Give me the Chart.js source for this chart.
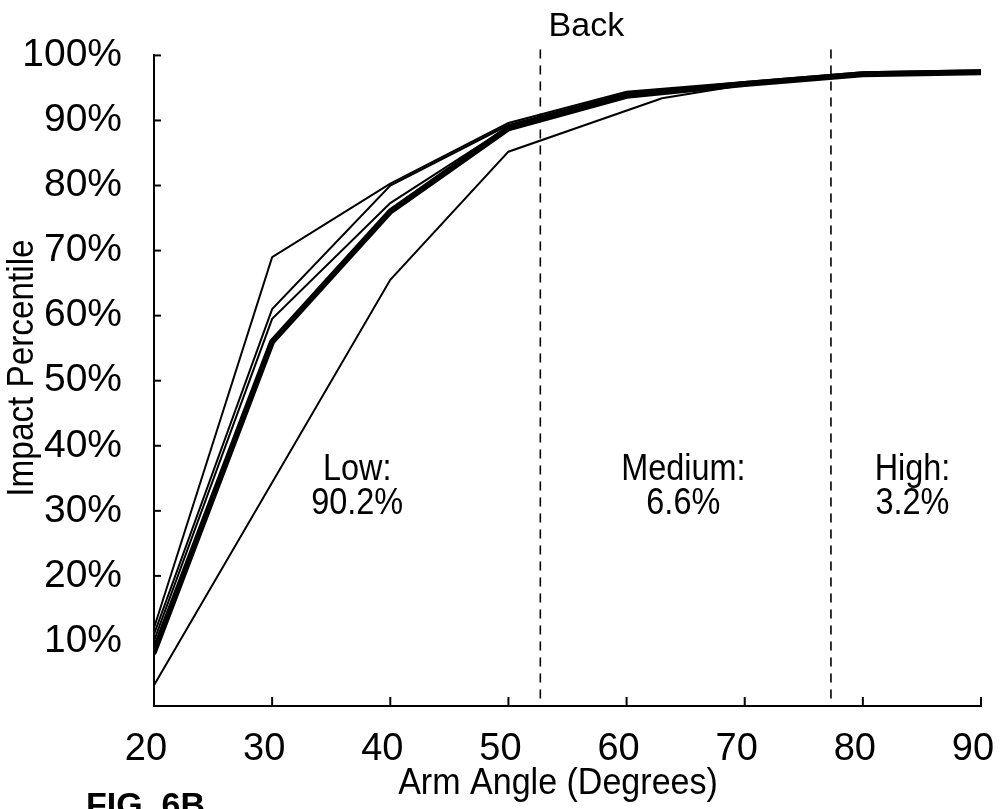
<!DOCTYPE html>
<html>
<head>
<meta charset="utf-8">
<script src="https://cdn.jsdelivr.net/npm/chart.js@4/dist/chart.umd.min.js"></script>
<style>
    body { margin: 0; background: #fff; }
    canvas { display: block; }
</style>
</head>
<body>
<canvas id="impactChart" width="1000" height="809"></canvas>
<script>
// 手臂角度（X軸）
const angles = [20, 30, 40, 50, 60, 70, 80, 90];
// 各條細線的撞擊百分位
const lineA = [12.0, 69.0, 80.3, 89.6, 94.4, 95.9, 97.4, 97.7];
const lineB = [11.0, 61.0, 80.0, 89.3, 94.2, 95.8, 97.3, 97.6];
const lineC = [10.0, 59.5, 77.3, 89.0, 94.0, 95.7, 97.2, 97.5];
// 粗線（平均）
const lineMean = [8.3, 56.0, 76.0, 88.8, 93.8, 95.6, 97.1, 97.4];
// 最低的那條線，沒有30度的點，轉折在約63度
const lowAngles = [20, 40, 50, 63, 70, 80, 90];
const lineLow = [3.2, 65.5, 85.2, 93.4, 95.5, 97.1, 97.4];

// 分區界線（虛線）
const boundaries = [52.7, 77.3];
// 分區文字
const zoneLabels = [
    { lines: ['Low:', '90.2%'], x: 37.2 },
    { lines: ['Medium:', '6.6%'], x: 64.8 },
    { lines: ['High:', '3.2%'], x: 84.2 }
];
const yTicks = [10, 20, 30, 40, 50, 60, 70, 80, 90, 100];
const xTicks = [30, 40, 50, 60, 70, 80, 90];

const FONT = "'Liberation Sans', Arial, sans-serif";

function toPoints(xs, ys) {
    return xs.map((x, i) => ({ x: x, y: ys[i] }));
}

function thinLine(data) {
    return {
        data: data,
        borderColor: '#000',
        borderWidth: 2,
        pointRadius: 0,
        tension: 0,
        fill: false
    };
}

// 稍微壓窄的文字（原圖字型偏窄）
function narrowText(ctx, text, x, y, sx) {
    ctx.save();
    ctx.translate(x, y);
    ctx.scale(sx, 1);
    ctx.fillText(text, 0, 0);
    ctx.restore();
}

// 自訂繪圖：內向刻度、虛線、文字
const decorPlugin = {
    id: 'decor',
    beforeDatasetsDraw(chart) {
        const ctx = chart.ctx;
        const xs = chart.scales.x;
        const area = chart.chartArea;
        ctx.save();
        ctx.strokeStyle = '#000';
        ctx.lineWidth = 1.6;
        ctx.setLineDash([9, 7]);
        boundaries.forEach(b => {
            const px = xs.getPixelForValue(b);
            ctx.beginPath();
            ctx.moveTo(px, area.top - 6);
            ctx.lineTo(px, area.bottom);
            ctx.stroke();
        });
        ctx.restore();
    },
    afterDraw(chart) {
        const ctx = chart.ctx;
        const xs = chart.scales.x;
        const ys = chart.scales.y;
        const area = chart.chartArea;
        ctx.save();
        ctx.strokeStyle = '#000';
        ctx.lineWidth = 2;
        // Y軸刻度（向內）
        yTicks.forEach(v => {
            const py = ys.getPixelForValue(v);
            ctx.beginPath();
            ctx.moveTo(area.left, py);
            ctx.lineTo(area.left + 7, py);
            ctx.stroke();
        });
        // X軸刻度（向上）
        xTicks.forEach(v => {
            const px = xs.getPixelForValue(v);
            ctx.beginPath();
            ctx.moveTo(px, area.bottom);
            ctx.lineTo(px, area.bottom - 9);
            ctx.stroke();
        });

        ctx.fillStyle = '#000';
        ctx.textAlign = 'center';
        ctx.textBaseline = 'middle';

        // 分區文字
        ctx.font = '36px ' + FONT;
        zoneLabels.forEach(z => {
            const px = xs.getPixelForValue(z.x);
            narrowText(ctx, z.lines[0], px, 470, 0.9);
            narrowText(ctx, z.lines[1], px, 504, 0.9);
        });

        // Back
        ctx.font = '34px ' + FONT;
        ctx.fillText('Back', xs.getPixelForValue(56.6), 27);

        // X軸標題
        ctx.font = '37px ' + FONT;
        narrowText(ctx, 'Arm Angle (Degrees)', 558, 784, 0.92);

        // Y軸標題
        ctx.save();
        ctx.translate(23, 368);
        ctx.rotate(-Math.PI / 2);
        narrowText(ctx, 'Impact Percentile', 0, 0, 0.9);
        ctx.restore();

        // 圖號
        ctx.font = 'bold 34px ' + FONT;
        ctx.textAlign = 'left';
        ctx.textBaseline = 'top';
        ctx.fillText('FIG. 6B', 86, 790);
        ctx.restore();
    }
};

const ctx = document.getElementById('impactChart').getContext('2d');
new Chart(ctx, {
    type: 'line',
    data: {
        datasets: [
            thinLine(toPoints(lowAngles, lineLow)),
            thinLine(toPoints(angles, lineA)),
            thinLine(toPoints(angles, lineB)),
            thinLine(toPoints(angles, lineC)),
            {
                data: toPoints(angles, lineMean),
                borderColor: '#000',
                borderWidth: 6,
                borderCapStyle: 'round',
                borderJoinStyle: 'round',
                pointRadius: 0,
                tension: 0,
                fill: false
            }
        ]
    },
    options: {
        responsive: false,
        animation: false,
        layout: { padding: { top: 53, right: 19, left: 0, bottom: 0 } },
        plugins: {
            legend: { display: false },
            tooltip: { enabled: false }
        },
        scales: {
            x: {
                type: 'linear',
                min: 20,
                max: 90,
                afterFit: s => {
                    s.height = 103;
                    s.paddingLeft = 0;
                    s.paddingRight = 0;
                },
                grid: { drawOnChartArea: false, drawTicks: false },
                border: { color: '#000', width: 2 },
                ticks: {
                    stepSize: 10,
                    padding: 21,
                    labelOffset: -8,
                    color: '#000',
                    font: { family: FONT, size: 38 }
                }
            },
            y: {
                min: 0,
                max: 100,
                afterFit: s => { s.width = 154; },
                grid: { drawOnChartArea: false, drawTicks: false },
                border: { color: '#000', width: 2 },
                ticks: {
                    stepSize: 10,
                    padding: 32,
                    color: '#000',
                    font: { family: FONT, size: 39 },
                    callback: v => v === 0 ? '' : v + '%'
                }
            }
        }
    },
    plugins: [decorPlugin]
});
</script>
</body>
</html>
